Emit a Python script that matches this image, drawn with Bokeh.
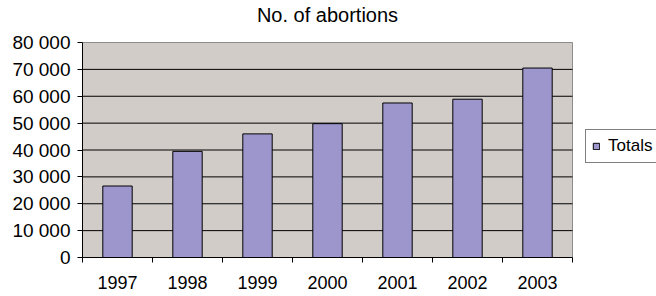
from bokeh.plotting import figure
from bokeh.models import ColumnDataSource, FixedTicker, Legend, LegendItem, Range1d, Label
from bokeh.embed import file_html
from bokeh.resources import INLINE

title = "No. of abortions"
years = ["1997", "1998", "1999", "2000", "2001", "2002", "2003"]
totals = [26600, 39500, 46000, 49800, 57500, 58900, 70500]
y_ticks = [0, 10000, 20000, 30000, 40000, 50000, 60000, 70000, 80000]
y_tick_labels = ["0", "10 000", "20 000", "30 000", "40 000",
                 "50 000", "60 000", "70 000", "80 000"]

FONT = "Liberation Sans"
n = len(years)
y_max = y_ticks[-1]

xs = [i + 0.5 for i in range(n)]
src = ColumnDataSource(dict(x=xs, top=totals, year=years))

# frame reaches the top of the canvas so the title can sit inside it
p = figure(width=656, height=296, output_backend="svg", toolbar_location=None,
           x_range=Range1d(0, 8.2), y_range=Range1d(0, 95630),
           min_border_left=82, min_border_right=0, min_border_top=0,
           min_border_bottom=39, border_fill_color="white")

p.title.visible = False
p.background_fill_color = "white"
p.outline_line_color = None

# plot area (gray wall)
p.quad(left=[0], right=[n], bottom=[0], top=[y_max], fill_color="#D2CCC8",
       line_color="#8C8C8C", line_width=1)

# horizontal grid lines
grid_src = ColumnDataSource(dict(y=y_ticks[1:-1]))
p.segment(x0=0, x1=n, y0="y", y1="y", source=grid_src, line_color="black",
          line_width=1)

r = p.vbar(x="x", top="top", width=0.42, source=src, fill_color="#9C96CC",
           line_color="black", line_width=1)

# title
p.add_layout(Label(x=n / 2, y=y_max * 1.127, text=title, text_align="center",
                   text_baseline="alphabetic", text_font=FONT,
                   text_font_size="20px", text_color="black"))

# y axis
p.yaxis.ticker = FixedTicker(ticks=y_ticks)
p.yaxis.bounds = (0, y_max)
p.yaxis.major_label_overrides = {t: l for t, l in zip(y_ticks, y_tick_labels)}
p.yaxis.major_label_text_font = FONT
p.yaxis.major_label_text_font_size = "19px"
p.yaxis.major_label_text_color = "black"
p.yaxis.major_tick_out = 5
p.yaxis.major_tick_in = 0
p.yaxis.minor_tick_line_color = None
p.yaxis.major_label_standoff = 7
p.yaxis.axis_line_color = "black"

# x axis: labels at centers, tick marks at category boundaries
p.xaxis.ticker = FixedTicker(ticks=xs, minor_ticks=list(range(n + 1)))
p.xaxis.bounds = (0, n)
p.xaxis.major_label_overrides = {x: y for x, y in zip(xs, years)}
p.xaxis.major_tick_line_color = None
p.xaxis.minor_tick_out = 5
p.xaxis.minor_tick_in = 0
p.xaxis.minor_tick_line_color = "black"
p.xaxis.major_label_text_font = FONT
p.xaxis.major_label_text_font_size = "18px"
p.xaxis.major_label_text_color = "black"
p.xaxis.major_label_standoff = 12
p.xaxis.axis_line_color = "black"

p.xgrid.grid_line_color = None
p.ygrid.grid_line_color = None

legend = Legend(items=[LegendItem(label="Totals", renderers=[r])],
                location=(503, 94), orientation="vertical",
                glyph_width=8, glyph_height=8, label_standoff=8,
                padding=6, margin=0, spacing=0,
                label_text_font=FONT, label_text_font_size="17px",
                label_text_color="black", label_height=17,
                border_line_color="black", border_line_width=1,
                background_fill_color="white", background_fill_alpha=1)
p.add_layout(legend, "center")

open("out.html", "w").write(file_html(p, INLINE))
